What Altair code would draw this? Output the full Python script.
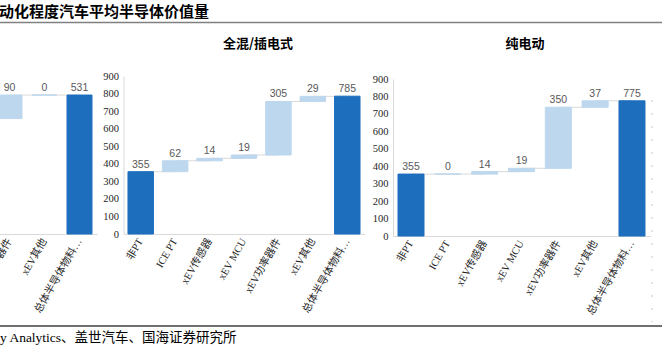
import altair as alt
import pandas as pd

# ---------------- data ----------------
title_text = "动化程度汽车平均半导体价值量"
source_text = "y Analytics、盖世汽车、国海证券研究所"
panel_titles = ["全混/插电式", "纯电动"]

# left panel (cropped in the reference): only the last three steps are visible
left_cats = ["xEV功率器件", "xEV其他", "总体半导体物料…"]
left_vals = [90, 0, 531]

full_cats = ["非PT", "ICE PT", "xEV传感器", "xEV MCU", "xEV功率器件", "xEV其他", "总体半导体物料…"]
mid_vals = [355, 62, 14, 19, 305, 29, 785]     # 全混/插电式
right_vals = [355, 0, 14, 19, 350, 37, 775]    # 纯电动

y_ticks = [0, 100, 200, 300, 400, 500, 600, 700, 800, 900]

# ---------------- style ----------------
DARK = "#1E6EBE"
LIGHT = "#BDD7EE"
CONN = "#D9D9D9"
SERIF = "Liberation Serif, Noto Sans CJK SC"
CJK = "Noto Sans CJK SC"
NUM = "Liberation Sans"


def waterfall(cats, vals, first_total):
    n = len(cats)
    base = vals[-1] - sum(vals[:-1]) if not first_total else 0
    rows = []
    cum = base
    for i, (c, v) in enumerate(zip(cats, vals)):
        is_total = (i == n - 1) or (i == 0 and first_total)
        if is_total:
            s, e = 0, v
            cum = v
        else:
            s, e = cum, cum + v
            cum = e
        rows.append(dict(cat=c, value=v, start=s, end=e,
                         kind="total" if is_total else "delta"))
    df = pd.DataFrame(rows)
    conn = pd.DataFrame({"cat": cats[:-1], "next": cats[1:],
                         "level": list(df["end"].iloc[:-1])})
    return df, conn


color_scale = alt.Scale(domain=["total", "delta"], range=[DARK, LIGHT])


def panel(cats, vals, first_total, xrange, pin, yrange, ydomain, x_off, y_off):
    df, conn = waterfall(cats, vals, first_total)
    xs = alt.Scale(domain=cats, range=xrange, paddingInner=pin, paddingOuter=pin / 2)
    ys = alt.Scale(domain=ydomain, range=yrange, nice=False)
    xaxis = alt.Axis(orient="bottom", offset=x_off, title=None, labelAngle=-60,
                     labelAlign="right", labelBaseline="middle", ticks=False,
                     domainColor="#D9D9D9", domainWidth=1, labelFont=SERIF,
                     labelFontSize=10.5, labelColor="#262626", labelPadding=5,
                     labelLimit=300, labelOverlap=False, grid=False)
    if y_off is None:
        yaxis = None
    else:
        yaxis = alt.Axis(orient="left", offset=y_off, title=None, values=y_ticks,
                         ticks=False, grid=False, domainColor="#D9D9D9", domainWidth=1,
                         labelFont=SERIF, labelFontSize=10.5, labelColor="#262626",
                         labelPadding=5, labelOverlap=False)
    rules = alt.Chart(conn).mark_rule(color=CONN, strokeWidth=1).encode(
        x=alt.X("cat:N", scale=xs, axis=xaxis),
        x2="next:N",
        y=alt.Y("level:Q", scale=ys, axis=yaxis),
    )
    bars = alt.Chart(df).mark_bar(strokeWidth=1).encode(
        x=alt.X("cat:N", scale=xs, axis=xaxis),
        y=alt.Y("start:Q", scale=ys, axis=yaxis),
        y2="end:Q",
        color=alt.Color("kind:N", scale=color_scale, legend=None),
        stroke=alt.Stroke("kind:N", scale=color_scale, legend=None),
    )
    labels = alt.Chart(df).mark_text(baseline="bottom", dy=-2, font=NUM,
                                     fontSize=10.5, color="#595959").encode(
        x=alt.X("cat:N", scale=xs, axis=xaxis),
        y=alt.Y("end:Q", scale=ys, axis=yaxis),
        text="value:Q",
    )
    return alt.layer(rules, bars, labels)


p_left = panel(left_cats, left_vals, False, [-8, 97], 0.286, [234, 77], [0, 600], -120, None)
p_mid = panel(full_cats, mid_vals, True, [123.5, 364.5], 0.26, [234, 76], [0, 900], -120, -123.5)
p_right = panel(full_cats, right_vals, True, [392.6, 650.4], 0.294, [236, 79], [0, 900], -118, -393)

one = pd.DataFrame({"t": [0]})

title = alt.Chart(pd.DataFrame({"t": [title_text]})).mark_text(
    align="left", baseline="middle", font=CJK, fontSize=15, fontWeight="bold", color="#000000"
).encode(x=alt.value(-1), y=alt.value(12), text="t:N")

pt1 = alt.Chart(pd.DataFrame({"t": [panel_titles[0]]})).mark_text(
    align="center", baseline="middle", font=CJK, fontSize=13, fontWeight="bold", color="#000000"
).encode(x=alt.value(258), y=alt.value(44), text="t:N")

pt2 = alt.Chart(pd.DataFrame({"t": [panel_titles[1]]})).mark_text(
    align="center", baseline="middle", font=CJK, fontSize=13, fontWeight="bold", color="#000000"
).encode(x=alt.value(525), y=alt.value(44), text="t:N")

src = alt.Chart(pd.DataFrame({"t": [source_text]})).mark_text(
    align="left", baseline="middle", font=SERIF, fontSize=13.5, color="#000000"
).encode(x=alt.value(0), y=alt.value(338), text="t:N")

top_line = alt.Chart(one).mark_rule(color="#808080", strokeWidth=1.5).encode(
    x=alt.value(0), x2=alt.value(662), y=alt.value(22.5))
bottom_line = alt.Chart(one).mark_rule(color="#404040", strokeWidth=1.5).encode(
    x=alt.value(0), x2=alt.value(662), y=alt.value(326))
frame_right = alt.Chart(one).mark_rule(color="#C8C8C8", strokeWidth=1, strokeDash=[2, 11]).encode(
    x=alt.value(652), y=alt.value(100), y2=alt.value(322))

chart = alt.layer(
    top_line, bottom_line, frame_right, title, pt1, pt2, src, p_left, p_mid, p_right
).resolve_scale(
    x="independent", y="independent"
).properties(
    width=662, height=354, padding=0,
    autosize=alt.AutoSizeParams(type="none"),
).configure_view(stroke=None)

chart.save("out.html", embed_options={"renderer": "svg", "actions": False})
